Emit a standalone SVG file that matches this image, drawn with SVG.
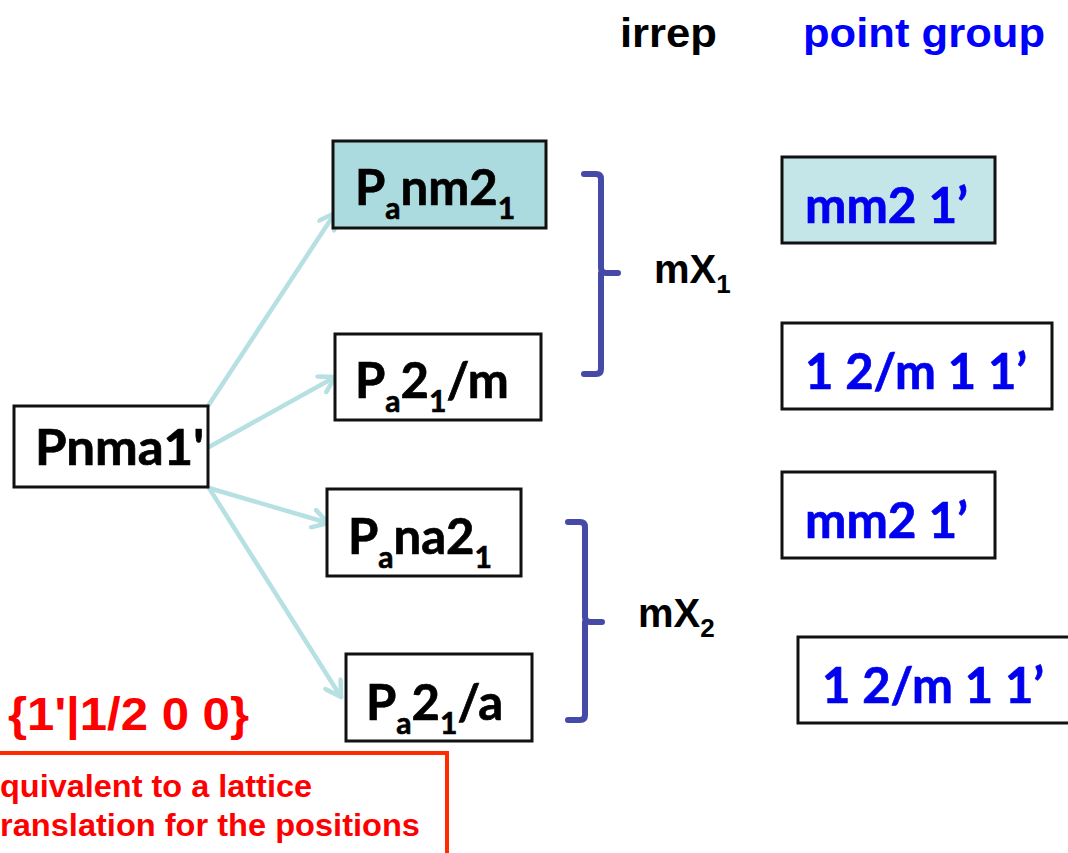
<svg xmlns="http://www.w3.org/2000/svg" width="1068" height="853" viewBox="0 0 1068 853">
  <defs>
    <marker id="chev" viewBox="0 0 22 22" refX="18" refY="11" markerWidth="22" markerHeight="22" markerUnits="userSpaceOnUse" orient="auto">
      <path d="M3,2 L18,11 L3,20" fill="none" stroke="#b7e0e3" stroke-width="4.5" stroke-linecap="round" stroke-linejoin="round"/>
    </marker>
  </defs>
  <style>
    .box { fill: #ffffff; stroke: #111111; stroke-width: 3; }
    .hl { fill: #acdbdf; }
    .hl2 { fill: #c5e6e9; }
    .sg { font-family: Lato, "Open Sans", sans-serif; font-weight: 700; font-size: 49px; fill: #000000; stroke: #000000; stroke-width: 0.7; }
    .pg { font-family: Lato, "Open Sans", sans-serif; font-weight: 700; font-size: 49px; fill: #0000ee; stroke: #0000ee; stroke-width: 0.7; }
    .hd { font-family: "Liberation Sans", Arial, sans-serif; font-weight: 700; font-size: 40px; }
    .ir { font-family: "Liberation Sans", Arial, sans-serif; font-weight: 700; font-size: 40px; fill: #000000; }
    .red { font-family: "Liberation Sans", Arial, sans-serif; font-weight: 700; fill: #ff0000; }
    .conn { fill: none; stroke: #b7e0e3; stroke-width: 4.5; stroke-linecap: round; }
    .brace { fill: none; stroke: #444aa6; stroke-width: 6; stroke-linecap: round; stroke-linejoin: round; }
  </style>

  <rect width="1068" height="853" fill="#ffffff"/>

  <!-- column headings -->
  <g id="headings">
    <text class="hd" x="620" y="47" textLength="97" lengthAdjust="spacingAndGlyphs" fill="#000000">irrep</text>
    <text class="hd" x="803" y="47" textLength="242" lengthAdjust="spacingAndGlyphs" fill="#0000ff">point group</text>
  </g>

  <!-- subgroup arrows -->
  <g id="connectors">
    <path class="conn" d="M208,406 L335,213" marker-end="url(#chev)"/>
    <path class="conn" d="M209,447 L335,377" marker-end="url(#chev)"/>
    <path class="conn" d="M209,488 L328,523" marker-end="url(#chev)"/>
    <path class="conn" d="M209,488 L341,697" marker-end="url(#chev)"/>
  </g>

  <!-- parent group -->
  <g id="node-pnma">
    <rect class="box" x="14" y="406" width="194" height="81"/>
    <text class="sg" x="35" y="465" font-size="46" textLength="169" lengthAdjust="spacingAndGlyphs">Pnma1'</text>
  </g>

  <!-- magnetic subgroups -->
  <g id="node-panm21">
    <rect class="box hl" x="333" y="141" width="213" height="87"/>
    <text class="sg" x="355" y="205">P<tspan font-size="30" dy="14">a</tspan><tspan dy="-14">nm2</tspan><tspan font-size="30" dy="14">1</tspan></text>
  </g>
  <g id="node-pa21m">
    <rect class="box" x="335" y="334" width="206" height="86"/>
    <text class="sg" x="355" y="398">P<tspan font-size="30" dy="14">a</tspan><tspan dy="-14">2</tspan><tspan font-size="30" dy="14">1</tspan><tspan dy="-14">/m</tspan></text>
  </g>
  <g id="node-pana21">
    <rect class="box" x="327" y="489" width="194" height="87"/>
    <text class="sg" x="348" y="554">P<tspan font-size="30" dy="14">a</tspan><tspan dy="-14">na2</tspan><tspan font-size="30" dy="14">1</tspan></text>
  </g>
  <g id="node-pa21a">
    <rect class="box" x="346" y="654" width="186" height="87"/>
    <text class="sg" x="366" y="720">P<tspan font-size="30" dy="14">a</tspan><tspan dy="-14">2</tspan><tspan font-size="30" dy="14">1</tspan><tspan dy="-14">/a</tspan></text>
  </g>

  <!-- irrep braces -->
  <g id="irrep-mx1">
    <path class="brace" d="M584,174 L596,174 Q601,174 601,179 L601,268 Q601,273 606,273 L618,273 M601,273 Q601,278 601,283 L601,369 Q601,374 596,374 L584,374"/>
    <text class="ir" x="654" y="283">mX<tspan font-size="26" dy="10">1</tspan></text>
  </g>
  <g id="irrep-mx2">
    <path class="brace" d="M568,522 L580,522 Q585,522 585,527 L585,617 Q585,622 590,622 L602,622 M585,622 Q585,627 585,632 L585,715 Q585,720 580,720 L568,720"/>
    <text class="ir" x="638" y="627">mX<tspan font-size="26" dy="10">2</tspan></text>
  </g>

  <!-- point groups -->
  <g id="pg-1">
    <rect class="box hl2" x="782" y="157" width="213" height="86"/>
    <text class="pg" x="805" y="223" textLength="163" lengthAdjust="spacingAndGlyphs">mm2 1’</text>
  </g>
  <g id="pg-2">
    <rect class="box" x="782" y="323" width="270" height="86"/>
    <text class="pg" x="805" y="389" textLength="222" lengthAdjust="spacingAndGlyphs">1 2/m 1 1’</text>
  </g>
  <g id="pg-3">
    <rect class="box" x="782" y="472" width="213" height="86"/>
    <text class="pg" x="805" y="538" textLength="163" lengthAdjust="spacingAndGlyphs">mm2 1’</text>
  </g>
  <g id="pg-4">
    <rect class="box" x="798" y="637" width="272" height="86"/>
    <text class="pg" x="822" y="703" textLength="222" lengthAdjust="spacingAndGlyphs">1 2/m 1 1’</text>
  </g>

  <!-- translation note -->
  <g id="note">
    <text class="red" x="8" y="730" font-size="46" textLength="241" lengthAdjust="spacingAndGlyphs">{1'|1/2 0 0}</text>
    <rect x="-10" y="753" width="457" height="110" fill="none" stroke="#ff2a00" stroke-width="4"/>
    <text class="red" x="0" y="797" font-size="31" textLength="312" lengthAdjust="spacingAndGlyphs">quivalent to a lattice</text>
    <text class="red" x="0" y="836" font-size="31" textLength="420" lengthAdjust="spacingAndGlyphs">ranslation for the positions</text>
  </g>
</svg>
